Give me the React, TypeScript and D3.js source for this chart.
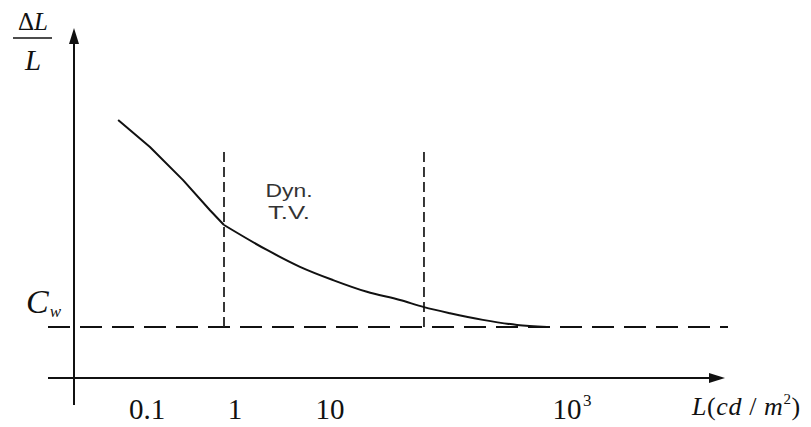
import { useEffect, useRef } from "react";
import { select, scaleLinear, line, curveMonotoneX, curveLinear } from "d3";

// luminance L (cd/m2) and threshold ratio dL/L
const luminance = [0.047, 0.108, 0.257, 0.52, 0.75, 2.17, 4.83, 10.6, 20.3, 38.3, 60.7, 100, 188, 362, 643];
const ratio = [5.06, 4.53, 3.88, 3.29, 3.0, 2.51, 2.18, 1.92, 1.69, 1.53, 1.39, 1.27, 1.14, 1.04, 1.0];
// index where the curve bends (start of the dynamic range)
const kneeIndex = 4;

const tickValues = [0.1, 1, 10, 1000];
const tickLabels = ["0.1", "1", "10", "10"];
const tickSups = ["", "", "", "3"];

const boundaries = [0.75, 60.7];
const boundaryTop = 4.43;
const weberConst = 1;

const width = 811;
const height = 427;

export default function App() {
	const svgRef = useRef<SVGSVGElement>(null);

	useEffect(() => {
		const svg = select(svgRef.current);
		svg.selectAll("*").remove();

		// piecewise log scale, the figure's decades are not evenly spaced
		const xLog = scaleLinear().domain([-1, 0, 1, 3]).range([147, 235, 330, 570]);
		const x = (v: number) => xLog(Math.log10(v));
		const y = scaleLinear().domain([0, 6]).range([378, 72]);

		const ink = "#111";
		const axisY = y(0);
		const axisX = 74;

		// axes
		svg.append("line")
			.attr("x1", 48).attr("x2", 716)
			.attr("y1", axisY).attr("y2", axisY)
			.attr("stroke", ink).attr("stroke-width", 2);
		svg.append("path")
			.attr("d", `M725,${axisY} L709,${axisY - 5} L709,${axisY + 5} Z`)
			.attr("fill", ink);
		svg.append("line")
			.attr("x1", axisX).attr("x2", axisX)
			.attr("y1", 405).attr("y2", 38)
			.attr("stroke", ink).attr("stroke-width", 2);
		svg.append("path")
			.attr("d", `M${axisX},28 L${axisX - 5},44 L${axisX + 5},44 Z`)
			.attr("fill", ink);

		// Cw asymptote
		svg.append("line")
			.attr("x1", 48).attr("x2", 728)
			.attr("y1", y(weberConst)).attr("y2", y(weberConst))
			.attr("stroke", ink).attr("stroke-width", 2)
			.attr("stroke-dasharray", "22 10");

		// region boundaries
		svg.selectAll(".bound")
			.data(boundaries)
			.enter()
			.append("line")
			.attr("x1", (d) => x(d)).attr("x2", (d) => x(d))
			.attr("y1", y(boundaryTop)).attr("y2", y(weberConst))
			.attr("stroke", "#222").attr("stroke-width", 1.8)
			.attr("stroke-dasharray", "10 5");

		// curve: straight-ish part, then the bend towards Cw
		const pts = luminance.map((l, i) => [x(l), y(ratio[i])] as [number, number]);
		const parts = [
			{ p: pts.slice(0, kneeIndex + 1), c: curveLinear },
			{ p: pts.slice(kneeIndex), c: curveMonotoneX },
		];
		parts.forEach(({ p, c }) => {
			svg.append("path")
				.attr("d", line().curve(c)(p))
				.attr("fill", "none")
				.attr("stroke", ink)
				.attr("stroke-width", 2)
				.attr("stroke-linejoin", "round");
		});

		// tick labels
		const serif = "'Liberation Serif', 'Times New Roman', serif";
		tickValues.forEach((v, i) => {
			svg.append("text")
				.attr("x", x(v) - (tickSups[i] ? 3 : 0))
				.attr("y", 419)
				.attr("text-anchor", "middle")
				.attr("font-family", serif)
				.attr("font-size", 29)
				.attr("fill", ink)
				.text(tickLabels[i]);
			if (tickSups[i]) {
				svg.append("text")
					.attr("x", x(v) + 13)
					.attr("y", 406)
					.attr("font-family", serif)
					.attr("font-size", 17)
					.attr("fill", ink)
					.text(tickSups[i]);
			}
		});

		// x axis title
		const xt = svg.append("text")
			.attr("x", 692).attr("y", 415)
			.attr("font-family", serif)
			.attr("font-size", 26)
			.attr("letter-spacing", 0.6)
			.attr("fill", ink);
		xt.append("tspan").attr("font-style", "italic").text("L");
		xt.append("tspan").text("(");
		xt.append("tspan").attr("font-style", "italic").text("cd");
		xt.append("tspan").text(" / ");
		xt.append("tspan").attr("font-style", "italic").text("m");
		xt.append("tspan").attr("font-size", 15).attr("dy", -11).text("2");
		xt.append("tspan").attr("dy", 11).text(")");

		// y axis title as a fraction
		const yt = svg.append("text")
			.attr("x", 33).attr("y", 30)
			.attr("text-anchor", "middle")
			.attr("font-family", serif)
			.attr("font-size", 25)
			.attr("fill", ink);
		yt.append("tspan").text("Δ");
		yt.append("tspan").attr("font-style", "italic").text("L");
		svg.append("line")
			.attr("x1", 13).attr("x2", 52)
			.attr("y1", 38).attr("y2", 38)
			.attr("stroke", ink).attr("stroke-width", 1.5);
		svg.append("text")
			.attr("x", 33).attr("y", 70)
			.attr("text-anchor", "middle")
			.attr("font-family", serif)
			.attr("font-style", "italic")
			.attr("font-size", 29)
			.attr("fill", ink)
			.text("L");

		// Cw label
		const cw = svg.append("text")
			.attr("x", 26).attr("y", y(weberConst) - 14)
			.attr("font-family", serif)
			.attr("font-style", "italic")
			.attr("font-size", 34)
			.attr("fill", ink);
		cw.append("tspan").text("C");
		cw.append("tspan").attr("font-size", 17).attr("dy", 4).attr("dx", 1).text("w");

		// region label
		const mid = (x(boundaries[0]) + x(boundaries[1])) / 2 - 35;
		["Dyn.", "T.V."].forEach((t, i) => {
			svg.append("text")
				.attr("x", mid)
				.attr("y", 197 + i * 22)
				.attr("text-anchor", "middle")
				.attr("font-family", "'Liberation Sans', Arial, sans-serif")
				.attr("font-size", 18)
				.attr("fill", "#333")
				.attr("textLength", i === 0 ? 47 : 42)
				.attr("lengthAdjust", "spacingAndGlyphs")
				.text(t);
		});
	}, []);

	return (
		<svg
			ref={svgRef}
			width={width}
			height={height}
			style={{ position: "absolute", left: 0, top: 0, background: "#fff" }}
		/>
	);
}
